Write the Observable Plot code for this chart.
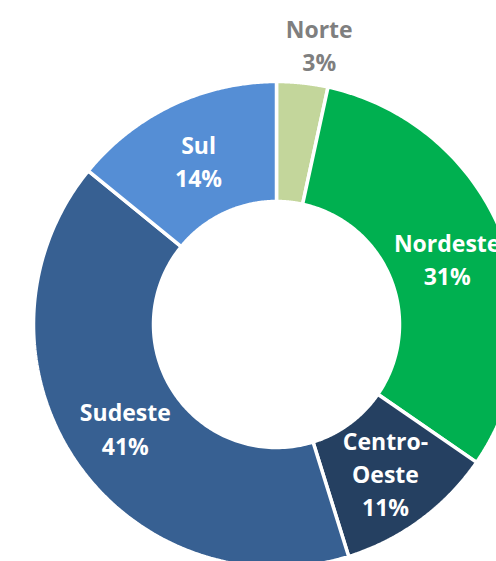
<!DOCTYPE html>
<html>
<head>
<meta charset="utf-8">
<script src="https://cdn.jsdelivr.net/npm/d3@7"></script>
<script src="https://cdn.jsdelivr.net/npm/@observablehq/plot@0.6"></script>
<style>
  html, body { margin: 0; padding: 0; background: #fff; overflow: hidden; }
</style>
</head>
<body>
<div id="chart"></div>
<script>
// Data
const regions = ["Norte", "Nordeste", "Centro-Oeste", "Sudeste", "Sul"];
const shares = [3.4, 31.2, 10.6, 40.7, 14.1];
const shareLabels = ["3%", "31%", "11%", "41%", "14%"];
const labelNames = ["Norte", "Nordeste", "Centro-\nOeste", "Sudeste", "Sul"];
const colors = ["#c3d69b", "#00b050", "#254061", "#376092", "#558ed5"];

// Geometry (donut in data units)
const W = 496, H = 561;
const cx = 276.5, cy = 324.5;
const R = 243, r0 = 123;
const total = d3.sum(shares);

// Build slice outlines from the cumulative shares
const arcRows = [];
const labelRows = [];
let acc = 0;
regions.forEach((name, i) => {
  const a0 = acc / total * 2 * Math.PI;
  acc += shares[i];
  const a1 = acc / total * 2 * Math.PI;
  const n = 120;
  for (let k = 0; k <= n; k++) {
    const a = a0 + (a1 - a0) * k / n;
    arcRows.push({
      region: name,
      xo: R * Math.sin(a), yo: R * Math.cos(a),
      xi: r0 * Math.sin(a), yi: r0 * Math.cos(a)
    });
  }
  const am = (a0 + a1) / 2;
  const outside = i === 0;
  const rl = outside ? 283 : (R + r0) / 2;
  labelRows.push({
    region: name,
    outside,
    text: labelNames[i] + "\n" + shareLabels[i],
    x: rl * Math.sin(am),
    y: rl * Math.cos(am)
  });
});

const chart = Plot.plot({
  width: W,
  height: H,
  margin: 0,
  x: { domain: [-cx, W - cx], axis: null },
  y: { domain: [-(H - cy), cy], axis: null },
  color: { domain: regions, range: colors },
  style: { background: "#fff", fontFamily: "'Open Sans', sans-serif" },
  marks: [
    Plot.area(arcRows, {
      x1: "xo", y1: "yo", x2: "xi", y2: "yi",
      z: "region", fill: "region",
      stroke: "white", strokeWidth: 3.5, strokeLinejoin: "miter"
    }),
    Plot.text(labelRows.filter(d => !d.outside), {
      x: "x", y: "y", text: "text",
      fill: "white", fontSize: 23, fontWeight: "bold",
      lineHeight: 1.45, fontFamily: "'Open Sans', sans-serif"
    }),
    Plot.text(labelRows.filter(d => d.outside), {
      x: "x", y: "y", text: "text", dx: 12,
      fill: "#7f7f7f", fontSize: 23, fontWeight: "bold",
      lineHeight: 1.45, fontFamily: "'Open Sans', sans-serif"
    })
  ]
});
document.getElementById("chart").appendChild(chart);
</script>
</body>
</html>
